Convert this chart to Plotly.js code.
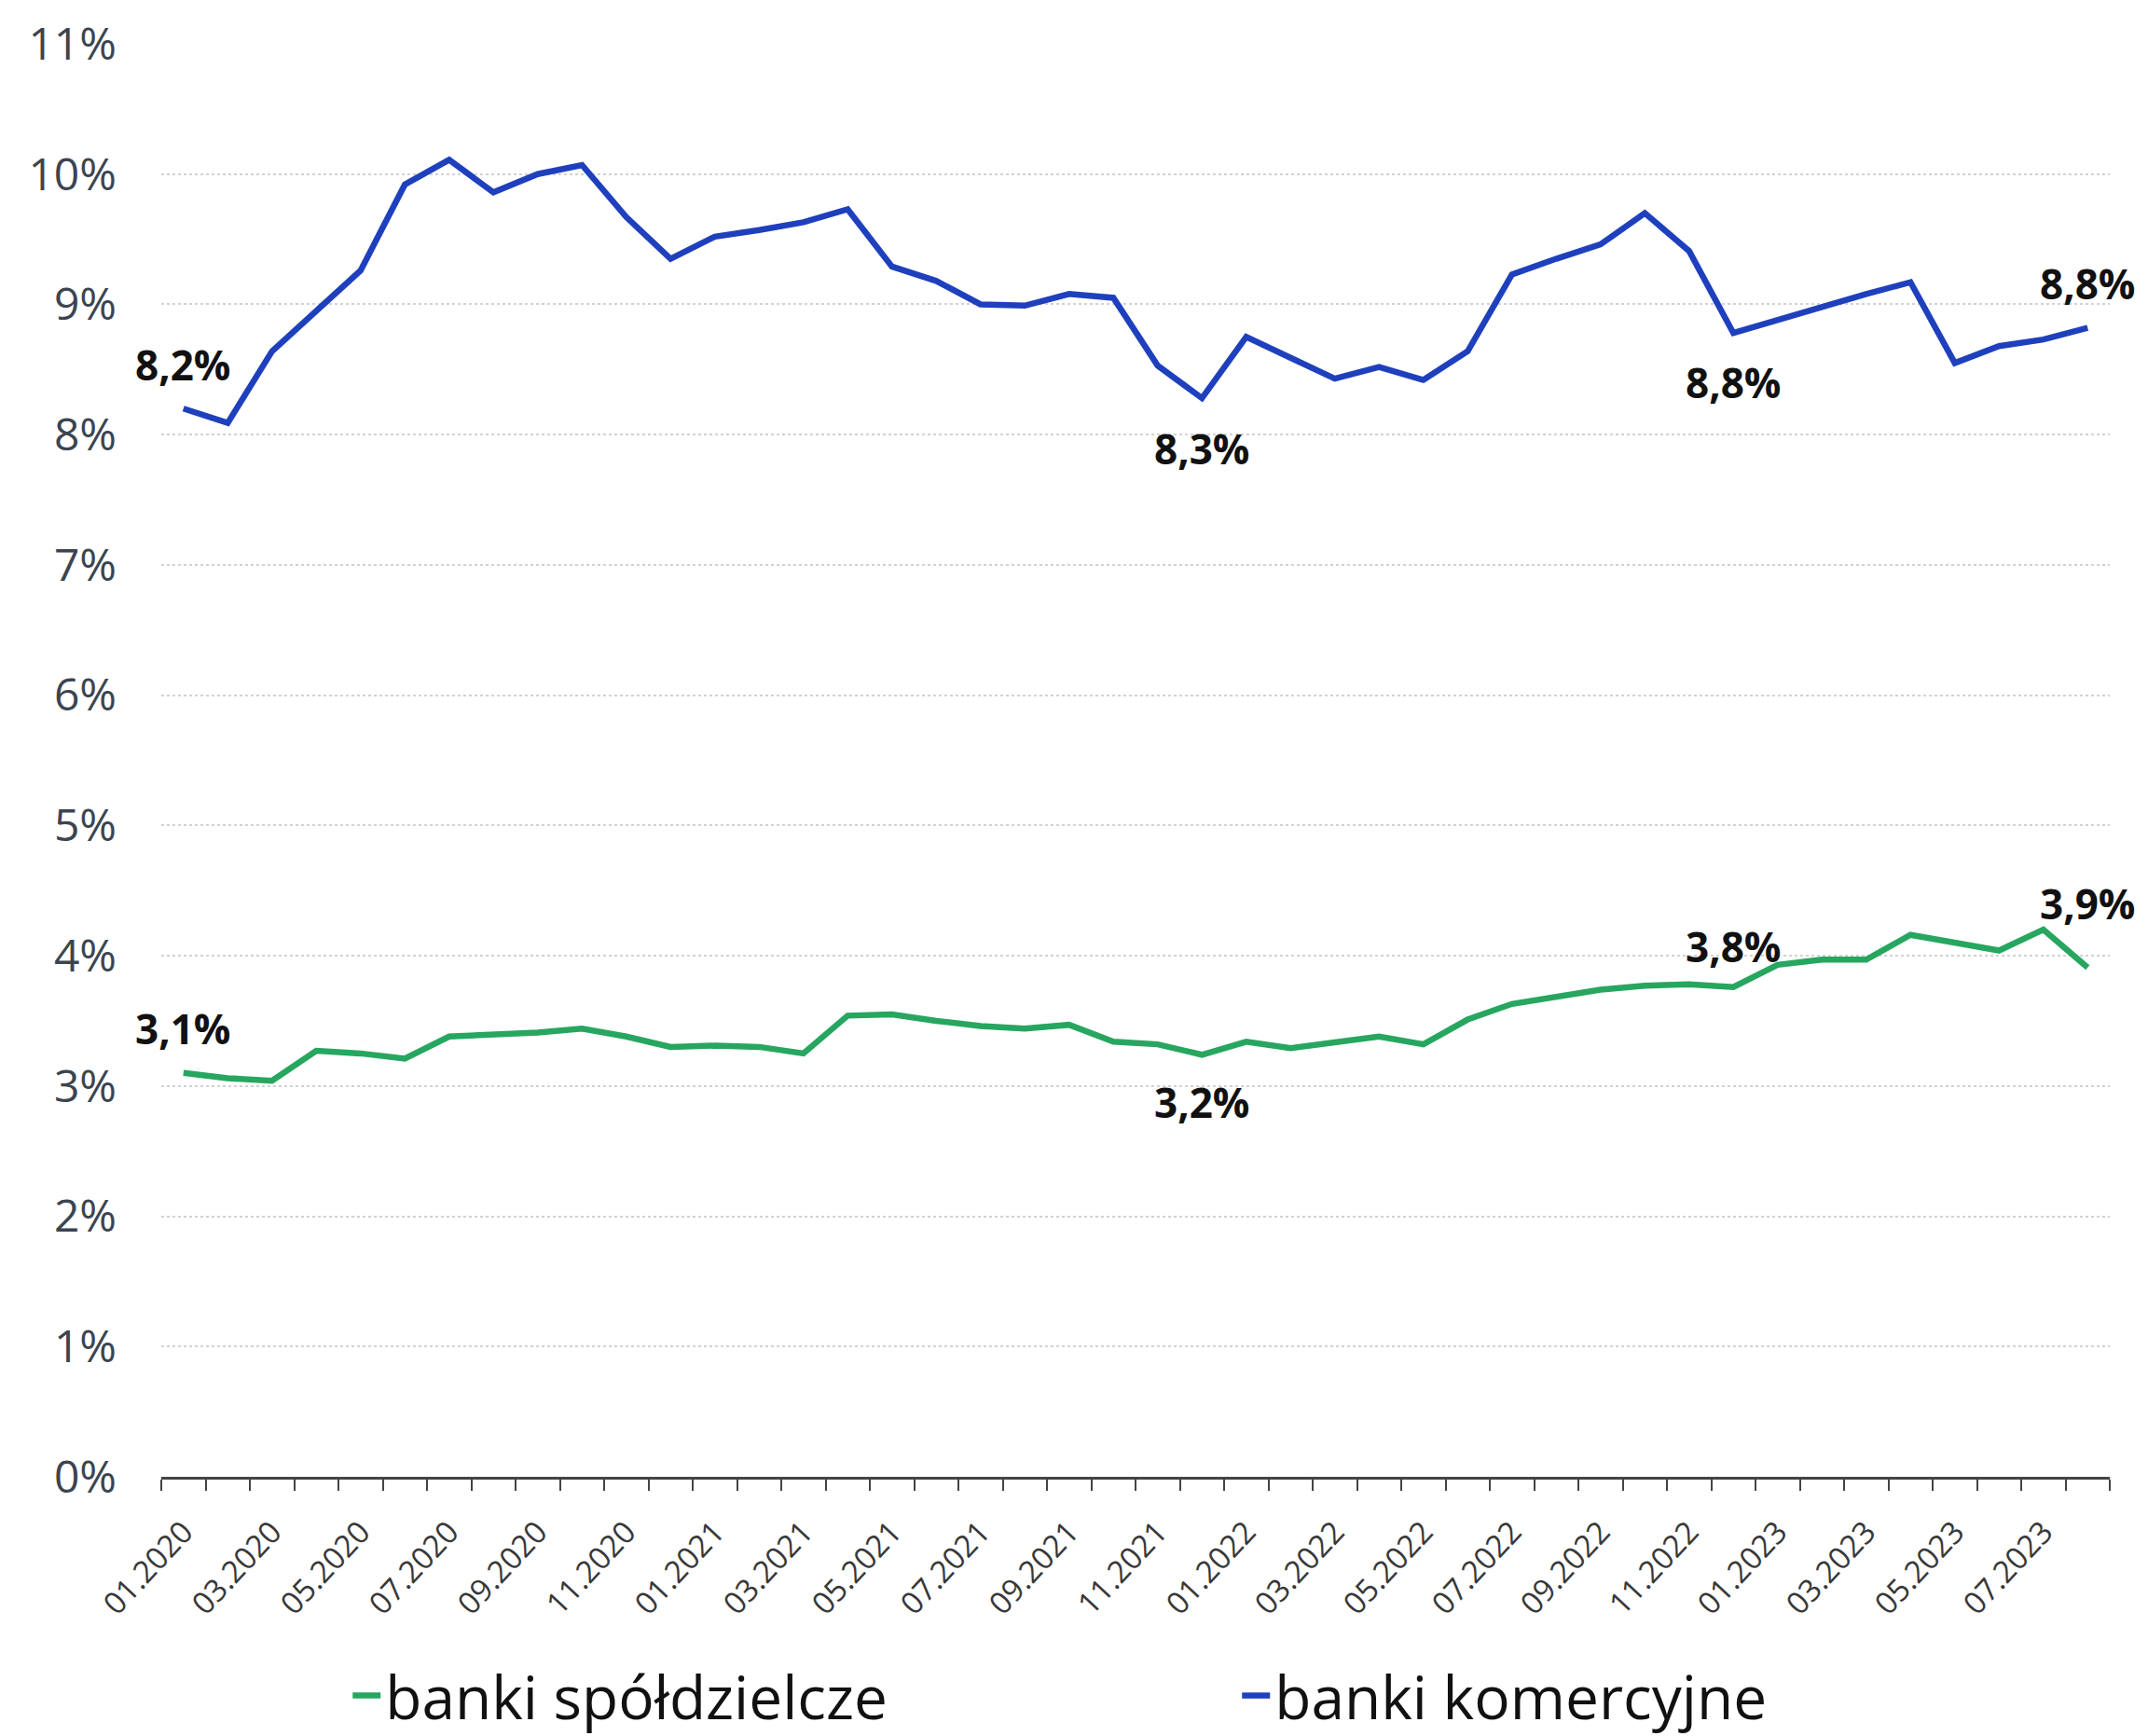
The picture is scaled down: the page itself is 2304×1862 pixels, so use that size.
<!DOCTYPE html>
<html>
<head>
<meta charset="utf-8">
<script src="https://cdn.plot.ly/plotly-3.0.1.min.js"></script>
<style>
  html, body { margin: 0; padding: 0; background: #ffffff; }
  #chart { width: 2304px; height: 1862px; }
</style>
</head>
<body>
<div id="chart"></div>
<script>
// Monthly categories, 01.2020 – 08.2023
const months = [
  '01.2020','02.2020','03.2020','04.2020','05.2020','06.2020','07.2020','08.2020','09.2020','10.2020','11.2020','12.2020',
  '01.2021','02.2021','03.2021','04.2021','05.2021','06.2021','07.2021','08.2021','09.2021','10.2021','11.2021','12.2021',
  '01.2022','02.2022','03.2022','04.2022','05.2022','06.2022','07.2022','08.2022','09.2022','10.2022','11.2022','12.2022',
  '01.2023','02.2023','03.2023','04.2023','05.2023','06.2023','07.2023','08.2023'
];

// banki spółdzielcze, %
const spoldzielcze = [
  3.10, 3.06, 3.04, 3.27, 3.25, 3.21, 3.38, 3.39, 3.41, 3.44, 3.38, 3.30,
  3.31, 3.30, 3.25, 3.54, 3.55, 3.50, 3.46, 3.44, 3.47, 3.34, 3.32, 3.24,
  3.34, 3.29, 3.33, 3.38, 3.32, 3.51, 3.63, 3.69, 3.74, 3.77, 3.78, 3.76,
  3.93, 3.97, 3.97, 4.16, 4.10, 4.04, 4.20, 3.91
];

// banki komercyjne, %
const komercyjne = [
  8.20, 8.09, 8.64, 8.95, 9.26, 9.92, 10.11, 9.86, 10.00, 10.07, 9.67, 9.35,
  9.52, 9.57, 9.63, 9.73, 9.29, 9.18, 9.00, 8.99, 9.08, 9.05, 8.53, 8.28,
  8.75, 8.59, 8.43, 8.52, 8.42, 8.64, 9.23, 9.35, 9.46, 9.70, 9.41, 8.78,
  8.88, 8.99, 9.08, 9.17, 8.55, 8.68, 8.73, 8.82
];

// y-axis tick values, %
const yTicks = [0, 1, 2, 3, 4, 5, 6, 7, 8, 9, 10, 11];

// every second month carries a label
const xTickText = months.map((m, i) => (i % 2 === 0 ? m : ''));

const FONT = 'Open Sans, Noto Sans, sans-serif';
const GREEN = '#27a660';
const BLUE = '#1f40bd';

// points annotated with their value; dy = vertical offset in px
const labelSpots = [
  { values: komercyjne, i: 0,  dy: 47 },
  { values: komercyjne, i: 23, dy: -54 },
  { values: komercyjne, i: 35, dy: -53 },
  { values: komercyjne, i: 43, dy: 48 },
  { values: spoldzielcze, i: 0,  dy: 48 },
  { values: spoldzielcze, i: 23, dy: -51 },
  { values: spoldzielcze, i: 35, dy: 44 },
  { values: spoldzielcze, i: 43, dy: 69 }
];

const fmt = v => v.toFixed(1).replace('.', ',') + '%';

// numeric x = category index (month strings such as "12.2021" would be read as numbers)
const annotations = labelSpots.map(s => ({
  x: s.i,
  y: s.values[s.i],
  xref: 'x',
  yref: 'y',
  text: fmt(s.values[s.i]),
  showarrow: false,
  yshift: s.dy,
  xanchor: 'center',
  yanchor: 'middle',
  font: { family: FONT, size: 44, color: '#111111', weight: 700 }
}));

const traces = [
  {
    type: 'scatter',
    mode: 'lines',
    name: 'banki spółdzielcze',
    x: months,
    y: spoldzielcze,
    line: { color: GREEN, width: 6.5 },
    hoverinfo: 'skip'
  },
  {
    type: 'scatter',
    mode: 'lines',
    name: 'banki komercyjne',
    x: months,
    y: komercyjne,
    line: { color: BLUE, width: 6.5 },
    hoverinfo: 'skip'
  }
];

const layout = {
  width: 2304,
  height: 1862,
  autosize: false,
  paper_bgcolor: '#ffffff',
  plot_bgcolor: '#ffffff',
  margin: { l: 173, r: 41, t: 47, b: 278 },
  font: { family: FONT, color: '#333333' },
  showlegend: true,
  legend: {
    orientation: 'h',
    xref: 'container',
    yref: 'container',
    x: 0.162,
    xanchor: 'left',
    y: 0.0231,
    yanchor: 'middle',
    font: { family: FONT, size: 64, color: '#111111' },
    entrywidth: 909,
    entrywidthmode: 'pixels',
    traceorder: 'normal',
    bgcolor: 'rgba(0,0,0,0)'
  },
  xaxis: {
    type: 'category',
    automargin: false,
    range: [-0.5, months.length - 0.5],
    tickmode: 'array',
    tickvals: months,
    ticktext: xTickText,
    tickson: 'boundaries',
    ticks: 'outside',
    ticklen: 12,
    tickwidth: 2,
    tickcolor: '#444444',
    showline: true,
    linecolor: '#444444',
    linewidth: 2.5,
    showgrid: false,
    zeroline: false,
    tickangle: -47,
    ticklabelstandoff: 24,
    tickfont: { family: FONT, size: 33, color: '#383838' },
    fixedrange: true
  },
  yaxis: {
    automargin: false,
    range: [0, 11],
    tickmode: 'array',
    tickvals: yTicks,
    ticktext: yTicks.map(v => v + '%'),
    showgrid: true,
    gridcolor: '#d2d2d2',
    griddash: 'dot',
    gridwidth: 2,
    zeroline: false,
    showline: false,
    ticks: '',
    ticklabelstandoff: 47,
    tickfont: { family: FONT, size: 48, color: '#3b4450' },
    fixedrange: true
  },
  annotations: annotations
};

Plotly.newPlot('chart', traces, layout, { staticPlot: true, displayModeBar: false });
</script>
</body>
</html>
